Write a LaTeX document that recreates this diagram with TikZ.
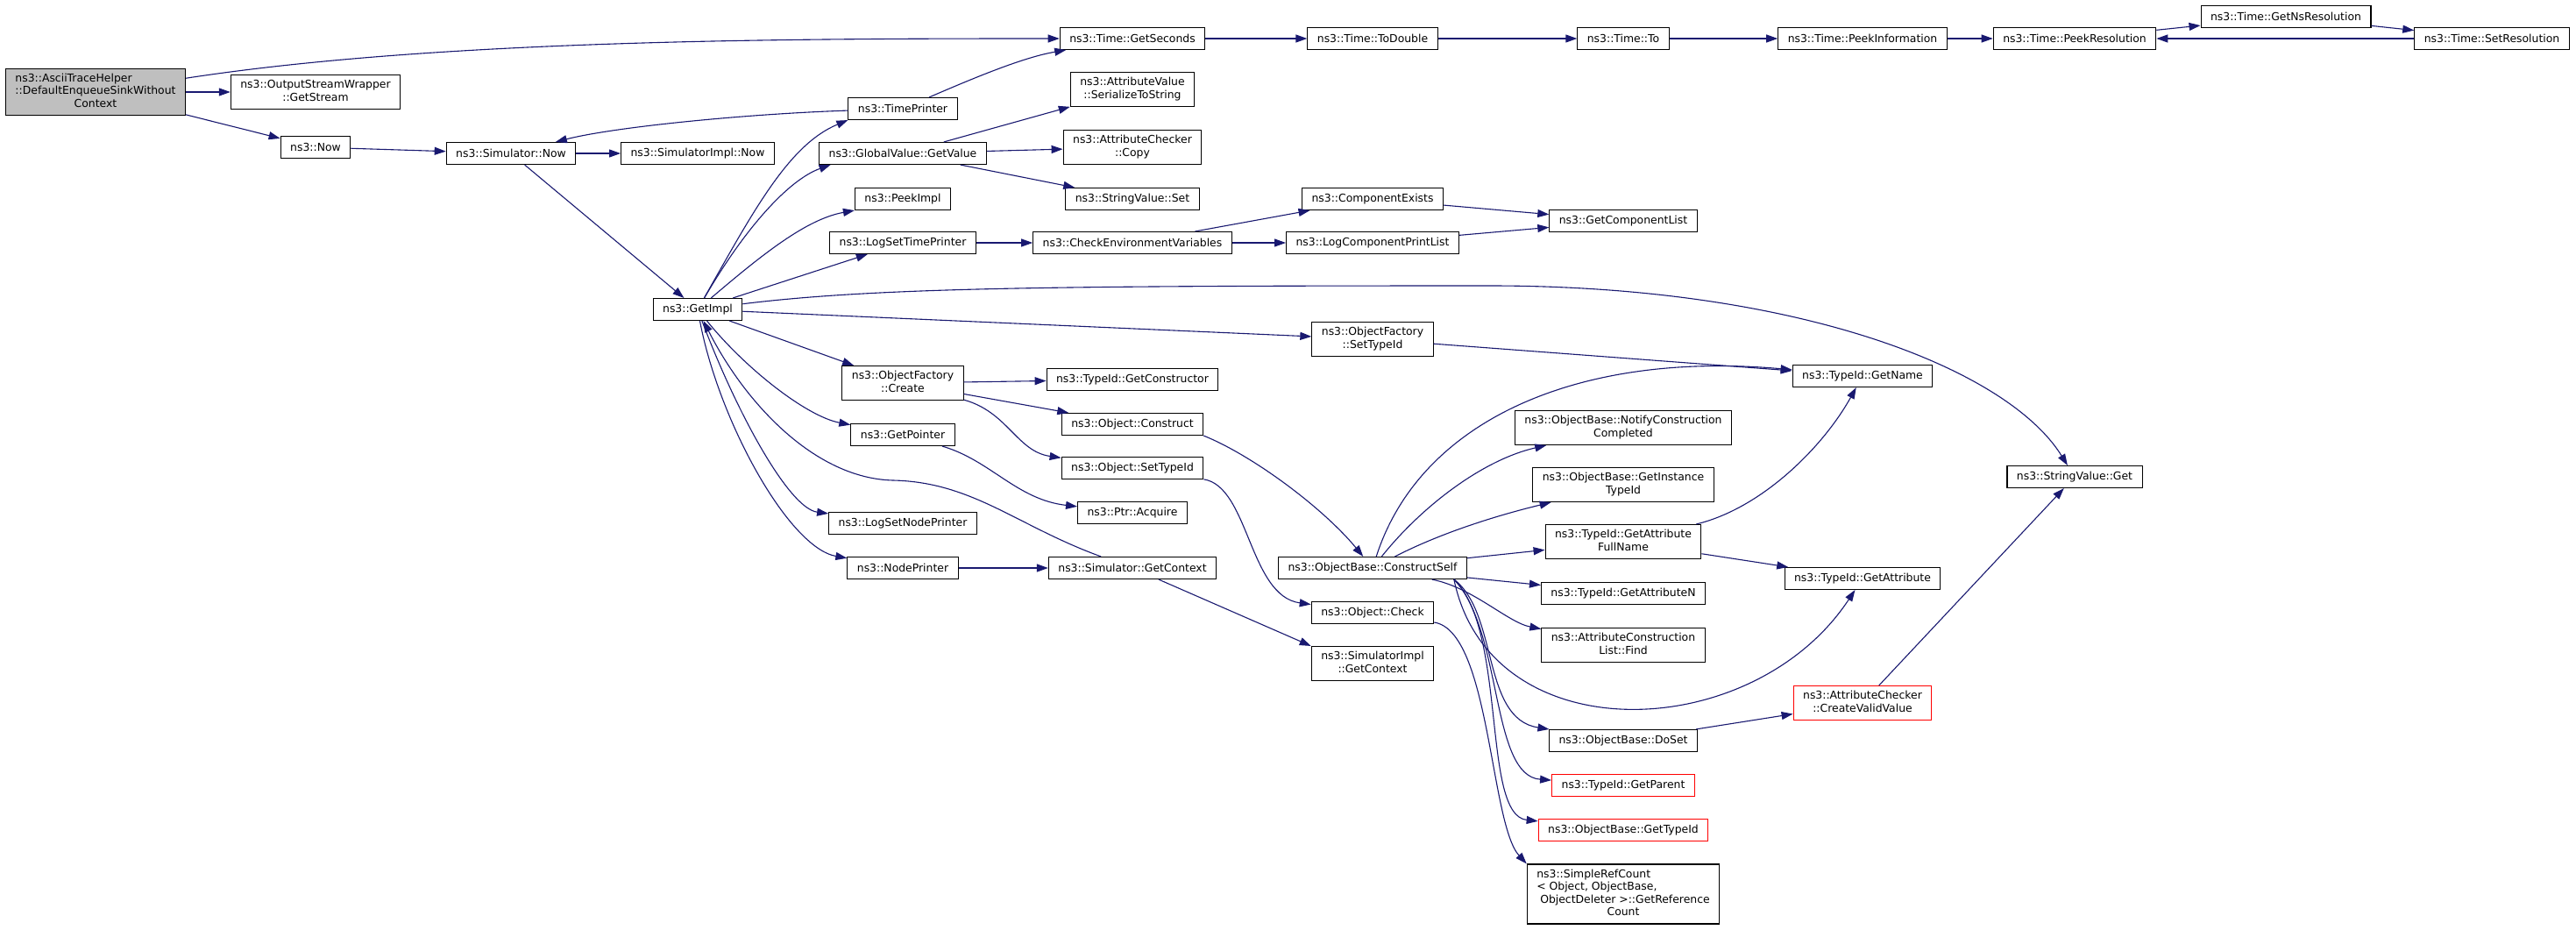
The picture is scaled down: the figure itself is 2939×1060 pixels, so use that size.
\documentclass[tikz,border=0pt]{standalone}
\usepackage{fontspec}
\setmainfont{DejaVu Sans}
\usepackage{xcolor}
\usepackage{tikz}
\usetikzlibrary{arrows.meta}

\definecolor{callblue}{HTML}{191970}
\definecolor{maingray}{HTML}{BFBFBF}
\newcommand{\mlab}[2]{\begin{tabular}{@{}l@{}}#1\\\multicolumn{1}{@{}c@{}}{#2}\end{tabular}}

\begin{document}
\begin{tikzpicture}[x=1pt, y=-1pt,
    fn/.style={rectangle, draw=black, line width=1.1pt, fill=white, inner xsep=11pt, inner ysep=5pt, minimum height=25pt, font=\fontsize{12.4}{14.5}\selectfont},
    fnred/.style={fn, draw=red},
    fnmain/.style={fn, fill=maingray},
    call/.style={draw=callblue, line width=1.1pt, -{Triangle[length=13pt, width=9pt]}}]
    \useasboundingbox (0,0) rectangle (2939,1060);

    \node[fnmain] (main) at (109,105) {\mlab{ns3::AsciiTraceHelper\\::DefaultEnqueueSinkWithout}{Context}};
    \node[fn] (osw) at (360,105) {\mlab{ns3::OutputStreamWrapper}{::GetStream}};
    \node[fn] (now) at (360,168) {ns3::Now};
    \node[fn] (simnow) at (583,175) {ns3::Simulator::Now};
    \node[fn] (simimplnow) at (796,175) {ns3::SimulatorImpl::Now};
    \node[fn] (getimpl) at (796,353) {ns3::GetImpl};
    \node[fn] (timeprinter) at (1030,124) {ns3::TimePrinter};
    \node[fn] (globalvalue) at (1030,175) {ns3::GlobalValue::GetValue};
    \node[fn] (peekimpl) at (1030,227) {ns3::PeekImpl};
    \node[fn] (logsettime) at (1030,277) {ns3::LogSetTimePrinter};
    \node[fn] (ofcreate) at (1030,437) {\mlab{ns3::ObjectFactory}{::Create}};
    \node[fn] (getpointer) at (1030,496) {ns3::GetPointer};
    \node[fn] (logsetnode) at (1030,597) {ns3::LogSetNodePrinter};
    \node[fn] (nodeprinter) at (1030,648) {ns3::NodePrinter};
    \node[fn] (getseconds) at (1292,44) {ns3::Time::GetSeconds};
    \node[fn] (serialize) at (1292,102) {\mlab{ns3::AttributeValue}{::SerializeToString}};
    \node[fn] (chkcopy) at (1292,168) {\mlab{ns3::AttributeChecker}{::Copy}};
    \node[fn] (strset) at (1292,227) {ns3::StringValue::Set};
    \node[fn] (checkenv) at (1292,277) {ns3::CheckEnvironmentVariables};
    \node[fn] (getctor) at (1292,433) {ns3::TypeId::GetConstructor};
    \node[fn] (objconstruct) at (1292,484) {ns3::Object::Construct};
    \node[fn] (objsettypeid) at (1292,534) {ns3::Object::SetTypeId};
    \node[fn] (ptracquire) at (1292,585) {ns3::Ptr::Acquire};
    \node[fn] (simgetctx) at (1292,648) {ns3::Simulator::GetContext};
    \node[fn] (todouble) at (1566,44) {ns3::Time::ToDouble};
    \node[fn] (compexists) at (1566,227) {ns3::ComponentExists};
    \node[fn] (logcomplist) at (1566,277) {ns3::LogComponentPrintList};
    \node[fn] (ofsettypeid) at (1566,387) {\mlab{ns3::ObjectFactory}{::SetTypeId}};
    \node[fn] (constructself) at (1566,648) {ns3::ObjectBase::ConstructSelf};
    \node[fn] (objcheck) at (1566,699) {ns3::Object::Check};
    \node[fn] (simimplgetctx) at (1566,757) {\mlab{ns3::SimulatorImpl}{::GetContext}};
    \node[fn] (timeto) at (1852,44) {ns3::Time::To};
    \node[fn] (getcomplist) at (1852,252) {ns3::GetComponentList};
    \node[fn] (notifycc) at (1852,488) {\mlab{ns3::ObjectBase::NotifyConstruction}{Completed}};
    \node[fn] (getinsttid) at (1852,553) {\mlab{ns3::ObjectBase::GetInstance}{TypeId}};
    \node[fn] (getattrfull) at (1852,618) {\mlab{ns3::TypeId::GetAttribute}{FullName}};
    \node[fn] (getattrn) at (1852,677) {ns3::TypeId::GetAttributeN};
    \node[fn] (attrfind) at (1852,736) {\mlab{ns3::AttributeConstruction}{List::Find}};
    \node[fn] (doset) at (1852,845) {ns3::ObjectBase::DoSet};
    \node[fnred] (getparent) at (1852,896) {ns3::TypeId::GetParent};
    \node[fnred] (gettypeid) at (1852,947) {ns3::ObjectBase::GetTypeId};
    \node[fn] (refcount) at (1852,1020) {\mlab{ns3::SimpleRefCount\\< Object, ObjectBase,\\\ ObjectDeleter >::GetReference}{Count}};
    \node[fn] (peekinfo) at (2125,44) {ns3::Time::PeekInformation};
    \node[fn] (getname) at (2125,429) {ns3::TypeId::GetName};
    \node[fn] (getattr) at (2125,660) {ns3::TypeId::GetAttribute};
    \node[fnred] (createvalid) at (2125,802) {\mlab{ns3::AttributeChecker}{::CreateValidValue}};
    \node[fn] (peekres) at (2367,44) {ns3::Time::PeekResolution};
    \node[fn] (strget) at (2367,544) {ns3::StringValue::Get};
    \node[fn] (getnsres) at (2608,19) {ns3::Time::GetNsResolution};
    \node[fn] (setres) at (2843,44) {ns3::Time::SetResolution};

    \draw[call] (main) .. controls (500,45) and (900,44) .. (getseconds);
    \draw[call] (main) -- (osw);
    \draw[call] (main) -- (now);
    \draw[call] (now) -- (simnow);
    \draw[call] (simnow) -- (simimplnow);
    \draw[call] (simnow) -- (getimpl);
    \draw[call] (timeprinter) .. controls (850,130) and (700,145) .. (simnow);
    \draw[call] (timeprinter) .. controls (1120,85) and (1170,65) .. (getseconds);
    \draw[call] (getimpl) .. controls (860,240) and (900,165) .. (timeprinter.south west);
    \draw[call] (getimpl) .. controls (850,260) and (900,205) .. (globalvalue.189);
    \draw[call] (getimpl) .. controls (870,290) and (920,250) .. (peekimpl.south west);
    \draw[call] (getimpl) -- (logsettime);
    \draw[call] (getimpl) .. controls (1000,328) and (1200,326) .. (1700,326) .. controls (2050,326) and (2290,420) .. (strget);
    \draw[call] (getimpl) -- (ofsettypeid);
    \draw[call] (getimpl) -- (ofcreate);
    \draw[call] (getimpl) .. controls (850,420) and (920,475) .. (getpointer);
    \draw[call] (simgetctx) .. controls (1160,600) and (1110,550) .. (1019,548) .. controls (930,546) and (850,460) .. (getimpl);
    \draw[call] (getimpl) .. controls (840,470) and (900,580) .. (logsetnode);
    \draw[call] (getimpl) .. controls (820,480) and (900,625) .. (nodeprinter);
    \draw[call] (globalvalue) -- (serialize);
    \draw[call] (globalvalue) -- (chkcopy);
    \draw[call] (globalvalue) -- (strset);
    \draw[call] (logsettime) -- (checkenv);
    \draw[call] (checkenv) -- (compexists);
    \draw[call] (checkenv) -- (logcomplist);
    \draw[call] (compexists) -- (getcomplist);
    \draw[call] (logcomplist) -- (getcomplist);
    \draw[call] (getseconds) -- (todouble);
    \draw[call] (todouble) -- (timeto);
    \draw[call] (timeto) -- (peekinfo);
    \draw[call] (peekinfo) -- (peekres);
    \draw[call] (peekres) -- (getnsres);
    \draw[call] (getnsres) -- (setres);
    \draw[call] (setres) -- (peekres);
    \draw[call] (ofcreate) -- (getctor);
    \draw[call] (ofcreate) -- (objconstruct);
    \draw[call] (ofcreate) .. controls (1150,470) and (1160,515) .. (objsettypeid);
    \draw[call] (getpointer) .. controls (1130,525) and (1160,570) .. (ptracquire);
    \draw[call] (nodeprinter) -- (simgetctx);
    \draw[call] (simgetctx) -- (simimplgetctx.north west);
    \draw[call] (objconstruct.south east) .. controls (1430,520) and (1510,580) .. (constructself);
    \draw[call] (objsettypeid) .. controls (1425,555) and (1425,680) .. (objcheck);
    \draw[call] (ofsettypeid) -- (getname);
    \draw[call] (constructself) .. controls (1620,480) and (1800,400) .. (getname);
    \draw[call] (constructself) .. controls (1620,580) and (1690,525) .. (notifycc);
    \draw[call] (constructself) .. controls (1640,610) and (1700,590) .. (getinsttid);
    \draw[call] (constructself) -- (getattrfull);
    \draw[call] (constructself) -- (getattrn);
    \draw[call] (constructself) .. controls (1680,670) and (1720,710) .. (attrfind);
    \draw[call] (constructself.-8) .. controls (1700,860) and (2000,850) .. (getattr);
    \draw[call] (constructself.-8) .. controls (1710,700) and (1690,820) .. (doset);
    \draw[call] (constructself.-8) .. controls (1715,720) and (1700,885) .. (getparent);
    \draw[call] (constructself.-8) .. controls (1720,720) and (1690,930) .. (gettypeid);
    \draw[call] (objcheck) .. controls (1700,720) and (1700,940) .. (refcount.north west);
    \draw[call] (getattrfull) .. controls (2010,580) and (2080,510) .. (getname);
    \draw[call] (getattrfull) -- (getattr);
    \draw[call] (doset) -- (createvalid);
    \draw[call] (createvalid) -- (strget);
\end{tikzpicture}
\end{document}
